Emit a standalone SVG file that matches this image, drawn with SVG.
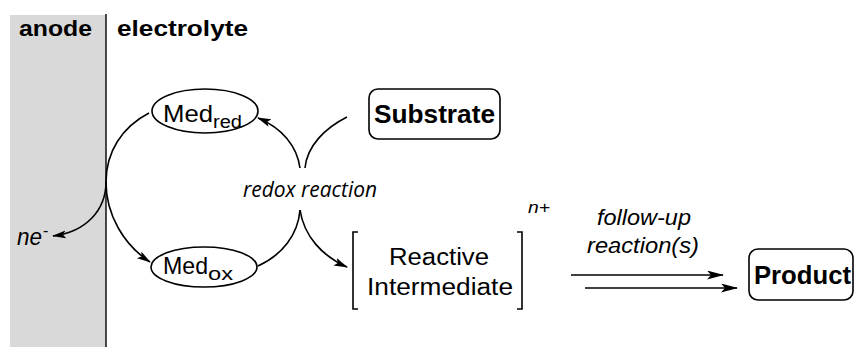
<svg xmlns="http://www.w3.org/2000/svg" width="856" height="347" viewBox="0 0 856 347">
<style>
.b{font-family:"Liberation Sans",Arial,sans-serif;font-weight:bold;fill:#000}
.r{font-family:"Liberation Sans",Arial,sans-serif;fill:#000}
.i{font-family:"Liberation Sans",Arial,sans-serif;font-style:italic;fill:#000}
.o{font-family:"Open Sans",sans-serif;font-style:italic;fill:#000}
.ln{fill:none;stroke:#000;stroke-width:1.6}
.box{fill:#fff;stroke:#000;stroke-width:1.6}
</style>
<defs>
<marker id="ah" markerUnits="userSpaceOnUse" markerWidth="16" markerHeight="10" refX="13" refY="4" orient="auto">
<path d="M0,0 L14,4 L0,8 L3,4 z" fill="#000"/>
</marker>
<marker id="ah2" markerUnits="userSpaceOnUse" markerWidth="20" markerHeight="10" refX="16" refY="4.5" orient="auto">
<path d="M0,0 L17,4.5 L0,9 L4,4.5 z" fill="#000"/>
</marker>
</defs>
<rect x="10" y="15" width="96" height="332" fill="#d9d9d9"/>
<line x1="106" y1="14" x2="106" y2="347" stroke="#000" stroke-width="1.4"/>
<text class="b" x="19" y="36" font-size="22" textLength="73" lengthAdjust="spacingAndGlyphs">anode</text>
<text class="b" x="117" y="36" font-size="22" textLength="131" lengthAdjust="spacingAndGlyphs">electrolyte</text>

<g id="connectors">
<path class="ln" d="M149,113 C122,127 106,152 106,182 C106,215 124,245 150,262" marker-end="url(#ah)"/>
<path class="ln" d="M106,182 C106,210 86,232 53,236" marker-end="url(#ah)"/>
<path class="ln" d="M258,266 C282,255 298,235 300,210"/>
<path class="ln" d="M300,210 C304,236 322,256 347,267" marker-end="url(#ah)"/>
<path class="ln" d="M347,117 C325,128 307,146 305,168"/>
<path class="ln" d="M300,168 C297,146 282,128 258,118" marker-end="url(#ah)"/>
<line class="ln" x1="571" y1="275" x2="723" y2="275" marker-end="url(#ah2)"/>
<line class="ln" x1="585" y1="288" x2="737" y2="288" marker-end="url(#ah2)"/>
</g>

<g id="medred">
<ellipse class="box" cx="205" cy="111" rx="53" ry="22"/>
<text class="r" x="163" y="122" font-size="24" textLength="50" lengthAdjust="spacingAndGlyphs">Med</text>
<text class="r" x="213" y="128" font-size="18" textLength="29" lengthAdjust="spacingAndGlyphs">red</text>
</g>
<g id="medox">
<ellipse class="box" cx="204" cy="267" rx="53" ry="20"/>
<text class="r" x="163" y="274" font-size="24" textLength="45" lengthAdjust="spacingAndGlyphs">Med</text>
<text class="r" x="208" y="280" font-size="18" textLength="25" lengthAdjust="spacingAndGlyphs">ox</text>
</g>
<g id="ne">
<text class="i" x="17" y="245" font-size="23" textLength="25" lengthAdjust="spacingAndGlyphs">ne</text>
<text class="r" x="43" y="236" font-size="16">-</text>
</g>
<g id="redox">
<text class="o" x="243" y="197" font-size="22" textLength="134" lengthAdjust="spacingAndGlyphs">redox reaction</text>
</g>
<g id="substrate">
<rect class="box" x="369" y="89" width="131" height="50" rx="9"/>
<text class="b" x="374" y="123" font-size="25" textLength="121" lengthAdjust="spacingAndGlyphs">Substrate</text>
</g>
<g id="intermediate">
<path class="ln" d="M358,232 H353 V309 H358 M517,232 H522 V309 H517"/>
<text class="r" x="389" y="265" font-size="23" textLength="100" lengthAdjust="spacingAndGlyphs">Reactive</text>
<text class="r" x="367" y="295" font-size="23" textLength="146" lengthAdjust="spacingAndGlyphs">Intermediate</text>
<text class="i" x="528" y="213" font-size="16" textLength="22" lengthAdjust="spacingAndGlyphs">n+</text>
</g>
<g id="followup">
<text class="i" x="597" y="225" font-size="22" textLength="94" lengthAdjust="spacingAndGlyphs">follow-up</text>
<text class="i" x="587" y="253" font-size="22" textLength="112" lengthAdjust="spacingAndGlyphs">reaction(s)</text>
</g>
<g id="product">
<rect class="box" x="749" y="249" width="104" height="51" rx="9"/>
<text class="b" x="754" y="284" font-size="25" textLength="97" lengthAdjust="spacingAndGlyphs">Product</text>
</g>
</svg>
